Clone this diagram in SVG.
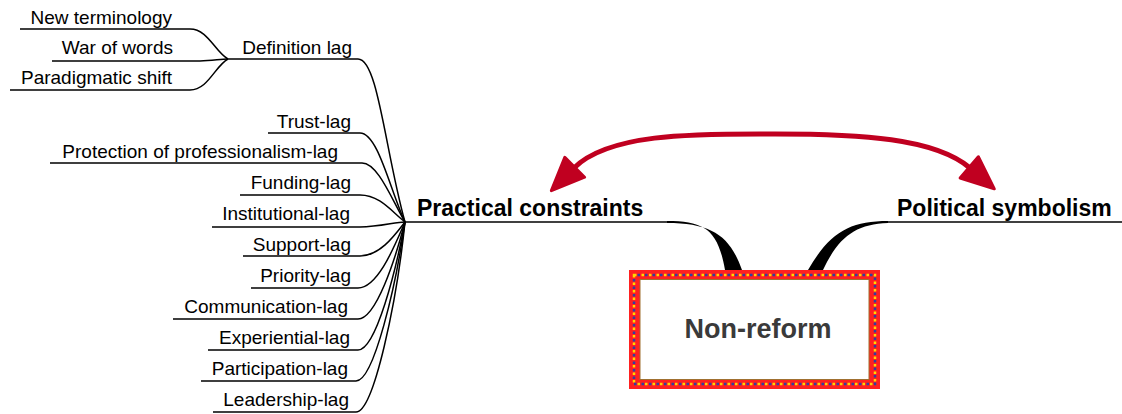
<svg xmlns="http://www.w3.org/2000/svg" width="1122" height="414" viewBox="0 0 1122 414">
<style>
.leaf{font-family:"Liberation Sans",Arial,sans-serif;font-size:19px;fill:#000}
.main{font-family:"Liberation Sans",Arial,sans-serif;font-size:23px;font-weight:bold;fill:#000}
.ln{fill:none;stroke:#000;stroke-width:1.5}
</style>
<defs>
<marker id="ah" markerUnits="userSpaceOnUse" markerWidth="38" markerHeight="34" refX="3" refY="17" orient="auto-start-reverse" viewBox="0 0 38 34">
<path d="M2,3 L35,17 L2,31 Z" fill="#c00020" stroke="#c00020" stroke-width="3" stroke-linejoin="round"/>
</marker>
</defs>
<g id="connectors">
<path class="ln" d="M20 29 L190 29 C208 29,215 52,228 59"/>
<path class="ln" d="M52 61 L200 61 C212 61,220 59,228 59"/>
<path class="ln" d="M10 90 L190 90 C208 90,215 66,228 59"/>
<path class="ln" d="M228 59 L358 59 C378 59,385 150,405 222"/>
<path class="ln" d="M268 133 L360 133 C378 133,390 190,405 222"/>
<path class="ln" d="M50 163 L362 163 C378 163,392 200,405 222"/>
<path class="ln" d="M240 195 L360 195 C380 195,392 212,405 222"/>
<path class="ln" d="M212 227 L360 227 C380 227,395 222,405 222"/>
<path class="ln" d="M243 256 L360 256 C380 256,395 235,405 222"/>
<path class="ln" d="M251 288 L358 288 C378 288,395 245,405 222"/>
<path class="ln" d="M173 319 L358 319 C376 319,395 260,405 222"/>
<path class="ln" d="M208 350 L358 350 C376 350,396 270,405 222"/>
<path class="ln" d="M201 381 L356 381 C374 381,396 285,405 222"/>
<path class="ln" d="M213 412 L356 412 C374 412,397 300,405 222"/>
<path class="ln" d="M405 222 L667 222"/>
<path class="ln" d="M888 222 L1122 222"/>
<path d="M667 221 C705 221,718 230,725 270 L742 270 C730 236,712 223,667 223 Z" fill="#000"/>
<path d="M888 221 C850 221,830 232,808 270 L823 270 C838 238,855 224,888 223 Z" fill="#000"/>
<path d="M574 168 C610 132,700 134,775 134 C860 134,935 138,970 168" fill="none" stroke="#c00020" stroke-width="5" marker-start="url(#ah)" marker-end="url(#ah)"/>
</g>
<g id="n-definition"><text class="leaf" x="352" y="54" text-anchor="end">Definition lag</text></g>
<g id="n-newterm"><text class="leaf" x="172" y="24" text-anchor="end">New terminology</text></g>
<g id="n-war"><text class="leaf" x="173" y="54" text-anchor="end">War of words</text></g>
<g id="n-paradigm"><text class="leaf" x="172" y="84" text-anchor="end">Paradigmatic shift</text></g>
<g id="n-trust"><text class="leaf" x="351" y="128" text-anchor="end">Trust-lag</text></g>
<g id="n-protection"><text class="leaf" x="338" y="158" text-anchor="end">Protection of professionalism-lag</text></g>
<g id="n-funding"><text class="leaf" x="351" y="189" text-anchor="end">Funding-lag</text></g>
<g id="n-institutional"><text class="leaf" x="350" y="220" text-anchor="end">Institutional-lag</text></g>
<g id="n-support"><text class="leaf" x="351" y="251" text-anchor="end">Support-lag</text></g>
<g id="n-priority"><text class="leaf" x="351" y="282" text-anchor="end">Priority-lag</text></g>
<g id="n-communication"><text class="leaf" x="348" y="313" text-anchor="end">Communication-lag</text></g>
<g id="n-experiential"><text class="leaf" x="350" y="344" text-anchor="end">Experiential-lag</text></g>
<g id="n-participation"><text class="leaf" x="348" y="375" text-anchor="end">Participation-lag</text></g>
<g id="n-leadership"><text class="leaf" x="349" y="406" text-anchor="end">Leadership-lag</text></g>
<g id="n-practical"><text class="main" x="417" y="216">Practical constraints</text></g>
<g id="n-political"><text class="main" x="897" y="216">Political symbolism</text></g>
<g id="n-nonreform">
<rect x="629" y="270" width="251" height="119" fill="#ff2020"/>
<rect x="634" y="275" width="241" height="109" fill="none" stroke="#ffd800" stroke-width="2.5" stroke-dasharray="2.5 5"/>
<rect x="634" y="275" width="241" height="109" fill="none" stroke="#3040a0" stroke-width="2.5" stroke-dasharray="2.5 5" stroke-dashoffset="4"/>
<rect x="640" y="279.5" width="229" height="100" fill="#fff" stroke="#a07030" stroke-width="1"/>
<text x="758" y="338" text-anchor="middle" font-family="Liberation Sans, Arial, sans-serif" font-size="27" font-weight="bold" fill="#3a3a3a">Non-reform</text>
</g>
</svg>
